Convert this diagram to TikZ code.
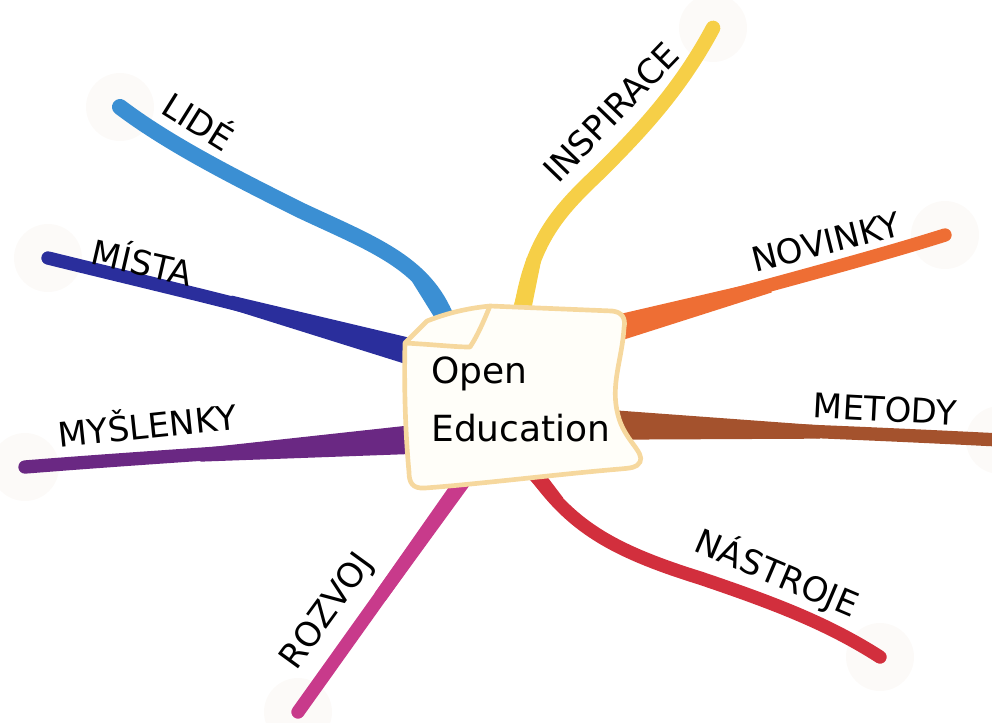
\documentclass[tikz,border=0pt]{standalone}
\usepackage{fontspec}
\setmainfont{DejaVu Sans}
\usetikzlibrary{calc}

\definecolor{lidecol}{HTML}{3B8FD3}
\definecolor{mistacol}{HTML}{2A2E9C}
\definecolor{myslcol}{HTML}{6A2883}
\definecolor{rozvojcol}{HTML}{C83A8B}
\definecolor{nastrojecol}{HTML}{D22F3D}
\definecolor{metodycol}{HTML}{A4522D}
\definecolor{novinkycol}{HTML}{EE6E34}
\definecolor{inspiracecol}{HTML}{F6CF47}
\definecolor{paperline}{HTML}{F6D89E}
\definecolor{paperfill}{HTML}{FFFEF9}
\definecolor{halocol}{HTML}{FCFAF8}

\begin{document}
\begin{tikzpicture}[x=0.75pt, y=-0.75pt]
  \tikzset{
    branch/.style={line width=10pt, line cap=round},
    tag/.style={font=\fontsize{25.5}{30}\selectfont, inner sep=0pt},
    paper/.style={draw=paperline, line width=3.5pt, line join=round, fill=paperfill},
  }
  \useasboundingbox (0,0) rectangle (992,722);

  % tips, necks and roots of the branches
  \coordinate (lide-t) at (120,107);      \coordinate (lide-n) at (418,276);      \coordinate (lide-r) at (447,320);
  \coordinate (mista-t) at (48,258);      \coordinate (mista-n) at (230,302);     \coordinate (mista-r) at (412,352);
  \coordinate (mysl-t) at (25,467);       \coordinate (mysl-n) at (200,455);      \coordinate (mysl-r) at (420,439);
  \coordinate (rozvoj-t) at (298,712);    \coordinate (rozvoj-n) at (380,597);    \coordinate (rozvoj-r) at (465,478);
  \coordinate (nastroje-t) at (880,657);  \coordinate (nastroje-n) at (558,502);  \coordinate (nastroje-r) at (532,470);
  \coordinate (metody-t) at (1000,440);   \coordinate (metody-n) at (820,432);    \coordinate (metody-r) at (615,425);
  \coordinate (novinky-t) at (945,235);   \coordinate (novinky-n) at (770,286);   \coordinate (novinky-r) at (610,330);
  \coordinate (inspirace-t) at (713,28);  \coordinate (inspirace-n) at (534,259); \coordinate (inspirace-r) at (520,318);

  % faint halos round the tips
  \foreach \t in {lide,mista,mysl,rozvoj,nastroje,metody,novinky,inspirace}
    \fill[halocol] (\t-t) circle (34);

  \draw[branch, lidecol, line width=12pt] (lide-t) .. controls (170,145) and (240,180) .. (300,210)
    .. controls (370,243) and (425,262) .. (lide-r);
  \draw[branch, mistacol] (mista-t) .. controls (170,288) and (300,318) .. (mista-r);
  \draw[branch, myslcol] (mysl-t) .. controls (150,457) and (300,448) .. (mysl-r);
  \draw[branch, rozvojcol] (rozvoj-t) -- (rozvoj-r);
  \draw[branch, nastrojecol] (nastroje-r) .. controls (570,525) and (610,550) .. (700,578)
    .. controls (780,605) and (830,625) .. (nastroje-t);
  \draw[branch, metodycol] (metody-r) .. controls (750,428) and (900,435) .. (metody-t);
  \draw[branch, novinkycol] (novinky-r) .. controls (720,297) and (850,265) .. (novinky-t);
  \draw[branch, inspiracecol, line width=11pt] (inspirace-r) .. controls (530,240) and (560,210) .. (600,172)
    .. controls (640,132) and (680,90) .. (inspirace-t);

  % wider necks next to the paper: half width \w at the root, \v (the line's own) at the neck
  \foreach \t/\w/\v in {lide/7pt/6pt,mista/10pt/5pt,mysl/11pt/5pt,rozvoj/6pt/5pt,
      nastroje/6pt/5pt,metody/11pt/5pt,novinky/10pt/5pt,inspirace/7pt/5.5pt}
    \fill[\t col] ($(\t-r)!\w!90:(\t-n)$) -- ($(\t-n)!\v!-90:(\t-r)$)
      -- ($(\t-n)!\v!90:(\t-r)$) -- ($(\t-r)!\w!-90:(\t-n)$) -- cycle;

  % the paper note
  \draw[paper] (405,343) -- (427,321) .. controls (450,312) and (470,308) .. (490,306)
    -- (612,311) .. controls (622,312) and (626,318) .. (624,328)
    .. controls (622,360) and (610,385) .. (618,415)
    .. controls (624,440) and (645,452) .. (640,462)
    .. controls (637,468) and (630,468) .. (620,469)
    .. controls (560,474) and (480,484) .. (425,488)
    .. controls (412,489) and (409,482) .. (409,472)
    .. controls (405,430) and (404,380) .. (405,343) -- cycle;
  \draw[paper, fill=none] (405,343) .. controls (440,345) and (455,347) .. (470,347)
    .. controls (478,335) and (485,318) .. (490,306);

  \node[tag, font=\fontsize{27}{32}\selectfont, anchor=base west] (open) at (431,383) {Open};
  \node[tag, font=\fontsize{27}{32}\selectfont, anchor=base west] (educ) at (431,441) {Education};

  % branch labels
  \foreach \t/\txt/\a/\x/\y in {lide/LIDÉ/-32/200/119, mista/MÍSTA/-13/143/260,
      mysl/MYŠLENKY/6/147/423, rozvoj/ROZVOJ/54/328/612, nastroje/NÁSTROJE/-23/777/573,
      metody/METODY/-3/885/409, novinky/NOVINKY/14/826/242, inspirace/INSPIRACE/46/611/112}
    \node[tag, rotate=\a] (\t) at (\x,\y) {\txt};
\end{tikzpicture}
\end{document}
